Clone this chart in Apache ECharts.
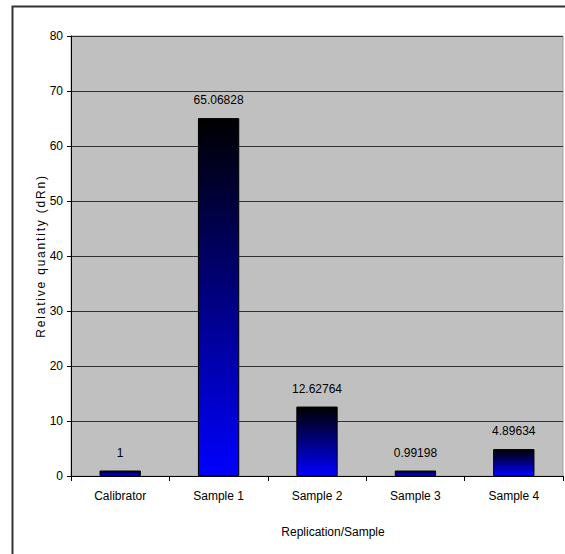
<!DOCTYPE html>
<html>
<head>
<meta charset="utf-8">
<script src="https://cdn.jsdelivr.net/npm/echarts@6/dist/echarts.min.js"></script>
<style>
  html, body { margin: 0; padding: 0; background: #fff; }
  #chart { width: 565px; height: 554px; }
</style>
</head>
<body>
<div id="chart"></div>
<script>
// Relative quantities per replication/sample
const categories = ['Calibrator', 'Sample 1', 'Sample 2', 'Sample 3', 'Sample 4'];
const relativeQuantity = [1, 65.06828, 12.62764, 0.99198, 4.89634];
const valueLabels = ['1', '65.06828', '12.62764', '0.99198', '4.89634'];
const yTicks = [0, 10, 20, 30, 40, 50, 60, 70, 80];

const FONT = '"Liberation Sans", Arial, sans-serif';
const Y_TITLE = 'Relative quantity (dRn)';
const chart = echarts.init(document.getElementById('chart'), null, { renderer: 'svg' });

// Widen the character spacing of the vertical axis title
function spaceYTitle() {
  document.querySelectorAll('#chart text').forEach(t => {
    if (t.textContent === Y_TITLE) {
      t.setAttribute('letter-spacing', '1.8');
    }
  });
}
chart.on('finished', spaceYTitle);

chart.setOption({
  animation: false,
  backgroundColor: '#fff',
  textStyle: { fontFamily: FONT, color: '#000' },
  graphic: [{
    type: 'rect',
    shape: { x: 12.5, y: 6.5, width: 570, height: 570 },
    style: { fill: 'none', stroke: '#333', lineWidth: 2 },
    silent: true,
    z: -1
  }],
  grid: {
    left: 71, top: 36, right: 2, bottom: 78,
    show: true,
    backgroundColor: '#C0C0C0',
    borderColor: '#A0A0A0',
    borderWidth: 1
  },
  xAxis: {
    type: 'category',
    data: categories,
    name: 'Replication/Sample',
    nameLocation: 'middle',
    nameGap: 50,
    nameMoveOverlap: false,
    nameTextStyle: { fontSize: 12, color: '#000', fontFamily: FONT, padding: [0, 0, 0, 32] },
    axisLine: { lineStyle: { color: '#000', width: 1 } },
    axisTick: { show: true, length: 5, alignWithLabel: false, lineStyle: { color: '#000' } },
    axisLabel: { fontSize: 12, color: '#000', margin: 14, fontFamily: FONT },
    splitLine: { show: false }
  },
  yAxis: {
    type: 'value',
    min: yTicks[0],
    max: yTicks[yTicks.length - 1],
    interval: 10,
    name: Y_TITLE,
    nameLocation: 'middle',
    nameGap: 24,
    nameMoveOverlap: false,
    nameTextStyle: { fontSize: 12, color: '#000', fontFamily: FONT },
    axisLine: { show: true, lineStyle: { color: '#000', width: 1 } },
    axisTick: { show: true, length: 4, lineStyle: { color: '#000' } },
    axisLabel: { fontSize: 12, color: '#000', margin: 8, fontFamily: FONT },
    splitLine: { show: true, lineStyle: { color: '#333', width: 1 } }
  },
  series: [{
    type: 'bar',
    data: relativeQuantity,
    barWidth: '42%',
    itemStyle: {
      color: new echarts.graphic.LinearGradient(0, 0, 0, 1, [
        { offset: 0, color: '#000000' },
        { offset: 1, color: '#0000FF' }
      ]),
      borderColor: '#000',
      borderWidth: 1
    },
    label: {
      show: true,
      position: 'top',
      distance: 12,
      fontSize: 12,
      color: '#000',
      fontFamily: FONT,
      formatter: p => valueLabels[p.dataIndex]
    }
  }]
});
spaceYTitle();
</script>
</body>
</html>
